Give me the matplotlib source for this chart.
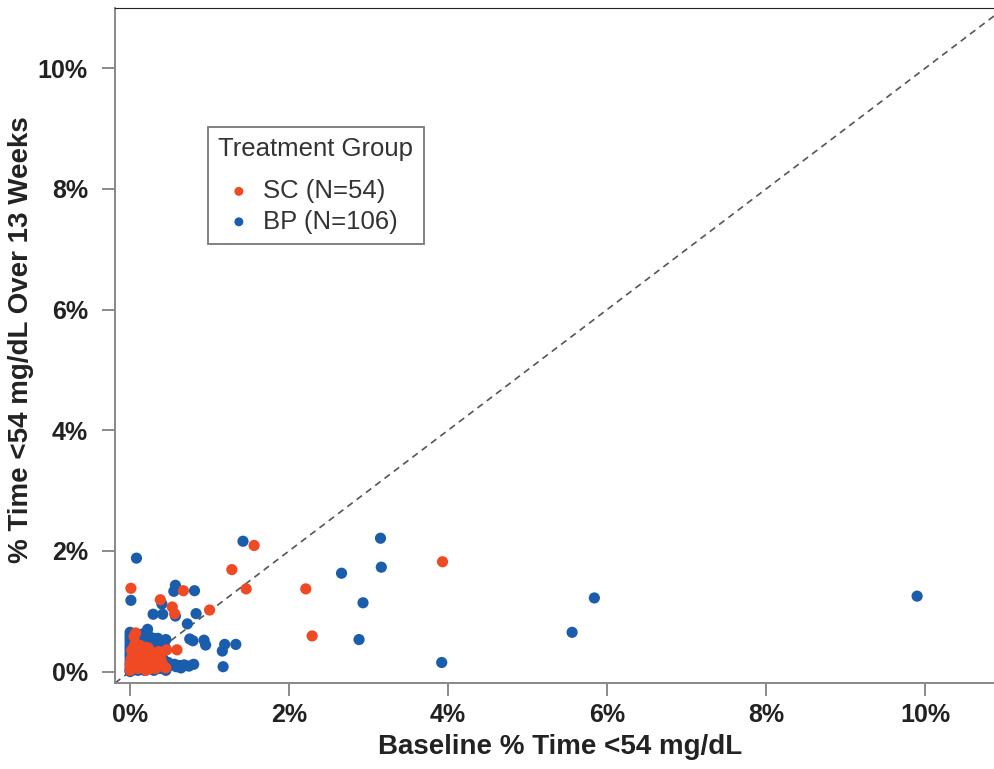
import matplotlib.pyplot as plt

plt.rcParams['font.family'] = ['Liberation Sans', 'DejaVu Sans']

# SC group (N=54): baseline % time <54 vs % time <54 over 13 weeks
sc_x = [1.56, 1.28, 0.01, 0.67, 1.46, 2.21, 0.38, 0.53, 0.56, 1.00, 2.29, 3.93, 0.07, 0.05, 0.59, 0.46, 0.23,
        0.00, 0.02, 0.04, 0.06, 0.01, 0.03, 0.08, 0.10, 0.12, 0.14, 0.15, 0.10, 0.18, 0.20, 0.22, 0.25, 0.27,
        0.30, 0.28, 0.33, 0.35, 0.38, 0.42, 0.45, 0.32, 0.05, 0.07, 0.16, 0.19, 0.24, 0.02, 0.00, 0.11, 0.13,
        0.36, 0.40, 0.20]
sc_y = [2.09, 1.69, 1.38, 1.34, 1.37, 1.37, 1.19, 1.07, 0.96, 1.02, 0.59, 1.82, 0.64, 0.58, 0.36, 0.36, 0.39,
        0.02, 0.05, 0.10, 0.15, 0.20, 0.27, 0.33, 0.05, 0.12, 0.20, 0.28, 0.38, 0.08, 0.15, 0.25, 0.05, 0.12,
        0.20, 0.32, 0.08, 0.15, 0.25, 0.08, 0.06, 0.05, 0.42, 0.47, 0.35, 0.40, 0.18, 0.35, 0.12, 0.25, 0.43,
        0.33, 0.15, 0.02]

# BP group (N=106)
bp_x = [1.42, 0.08, 3.15, 3.16, 2.66, 2.93, 2.88, 3.92, 5.84, 5.56, 9.90,
        0.01, 0.57, 0.55, 0.81, 0.40, 0.57, 0.29, 0.41, 0.83, 0.72, 0.22, 0.45, 0.75, 0.79, 0.93, 0.95,
        1.19, 1.16, 1.33, 1.17, 0.36, 0.23,
        0.50, 0.56, 0.62, 0.68, 0.74, 0.80, 0.47, 0.58,
        0.00, 0.00, 0.00, 0.00, 0.00, 0.00, 0.00, 0.00, 0.00, 0.00, 0.00, 0.00, 0.00, 0.00, 0.00,
        0.03, 0.03, 0.03, 0.03, 0.03, 0.03, 0.06, 0.06, 0.06, 0.06, 0.10, 0.10, 0.10, 0.10, 0.10,
        0.15, 0.18, 0.12, 0.14, 0.18, 0.20, 0.22, 0.25, 0.27, 0.28, 0.30, 0.31, 0.33, 0.35, 0.37,
        0.38, 0.40, 0.42, 0.44, 0.45, 0.39, 0.15, 0.43, 0.30, 0.26, 0.20, 0.08, 0.12, 0.64, 0.16,
        0.24, 0.09, 0.13, 0.35, 0.48]
bp_y = [2.16, 1.88, 2.21, 1.73, 1.63, 1.14, 0.53, 0.15, 1.22, 0.65, 1.25,
        1.18, 1.43, 1.33, 1.34, 1.12, 0.92, 0.95, 0.95, 0.96, 0.79, 0.70, 0.53, 0.54, 0.51, 0.52, 0.44,
        0.45, 0.34, 0.45, 0.08, 0.36, 0.34,
        0.10, 0.12, 0.10, 0.11, 0.09, 0.12, 0.12, 0.08,
        0.65, 0.60, 0.55, 0.50, 0.45, 0.40, 0.35, 0.30, 0.25, 0.20, 0.15, 0.10, 0.05, 0.02, 0.00,
        0.62, 0.48, 0.38, 0.28, 0.18, 0.08, 0.55, 0.45, 0.12, 0.03, 0.60, 0.50, 0.44, 0.20, 0.02,
        0.55, 0.48, 0.30, 0.10, 0.02, 0.22, 0.45, 0.10, 0.28, 0.40, 0.02, 0.15, 0.45, 0.25, 0.05,
        0.42, 0.30, 0.20, 0.40, 0.02, 0.08, 0.62, 0.12, 0.55, 0.20, 0.60, 0.25, 0.50, 0.06, 0.38,
        0.58, 0.35, 0.20, 0.55, 0.15]

sc_color = '#EF4A24'
bp_color = '#1A5DAD'

fig = plt.figure(figsize=(9.95, 7.69), dpi=100)
ax = fig.add_axes([115 / 995, 86 / 769, 880 / 995, 675 / 769])

ax.axline((0, 0), slope=1, color='#555555', lw=1.2, ls=(0, (4, 3)), zorder=1)
ax.scatter(bp_x, bp_y, s=65, color=bp_color, edgecolors='none', zorder=2, label='BP (N=106)')
ax.scatter(sc_x, sc_y, s=65, color=sc_color, edgecolors='none', zorder=3, label='SC (N=54)')

ax.set_xlim(-0.19, 10.88)
ax.set_ylim(-0.19, 11.0)
ticks = [0, 2, 4, 6, 8, 10]
ax.set_xticks(ticks)
ax.set_yticks(ticks)
ax.set_xticklabels([f'{t}%' for t in ticks], fontsize=18, fontweight='bold', color='#222222')
ax.set_yticklabels([f'{t}%' for t in ticks], fontsize=18, fontweight='bold', color='#222222')
ax.tick_params(axis='x', length=9.5, width=1.2, color='#777777', pad=5)
ax.tick_params(axis='y', length=9.5, width=1.2, color='#777777', pad=10)

ax.spines['left'].set_color('#888888')
ax.spines['bottom'].set_color('#888888')
ax.spines['left'].set_linewidth(1.4)
ax.spines['bottom'].set_linewidth(1.4)
ax.spines['top'].set_color('#222222')
ax.spines['right'].set_visible(False)

ax.set_xlabel('Baseline % Time <54 mg/dL', fontsize=20, fontweight='bold', color='#222222')
ax.xaxis.set_label_coords(0.5057, -0.075)
ax.set_ylabel('% Time <54 mg/dL Over 13 Weeks', fontsize=20, fontweight='bold', color='#222222')
ax.yaxis.set_label_coords(-0.092, 0.508)

handles, labels = ax.get_legend_handles_labels()
leg = ax.legend(handles[::-1], labels[::-1], title='Treatment Group', loc='upper left',
                bbox_to_anchor=(0.1057, 0.824), borderaxespad=0, fontsize=18.5, title_fontsize=18.5,
                frameon=True, fancybox=False, edgecolor='#555555', markerscale=0.8, handletextpad=0.15,
                borderpad=0.4, labelspacing=0.25, handlelength=1.6, alignment='left')
leg._legend_box.sep = 13
leg.get_frame().set_linewidth(1.3)
for t in leg.get_texts():
    t.set_color('#333333')
leg.get_title().set_color('#333333')

fig.savefig('out.png', dpi=100)
